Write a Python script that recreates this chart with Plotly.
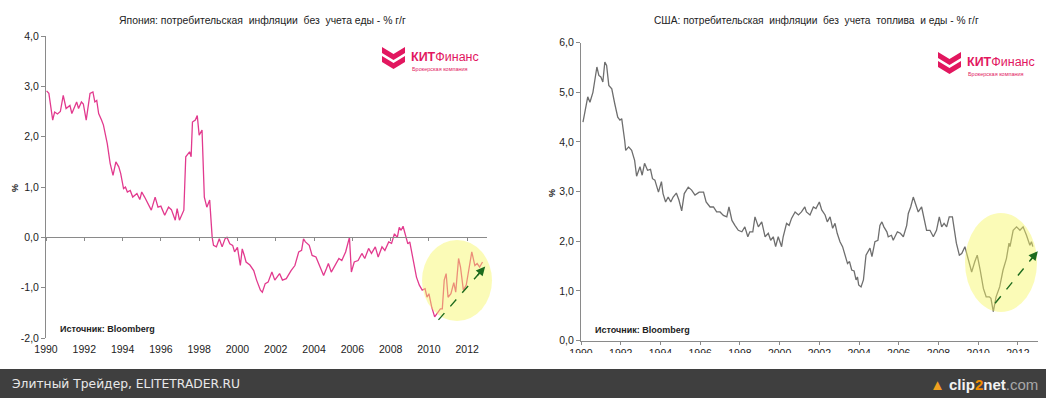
import plotly.graph_objects as go

# ---------------- data ----------------
jp_years = [1990.03, 1990.15, 1990.35, 1990.45, 1990.6, 1990.75, 1990.9, 1991.05, 1991.25, 1991.35,
            1991.6, 1991.7, 1991.85, 1991.95, 1992.1, 1992.3, 1992.45, 1992.55, 1992.65, 1992.75,
            1992.9, 1993.0, 1993.2, 1993.3, 1993.35, 1993.5, 1993.65, 1993.8, 1993.9, 1994.05,
            1994.15, 1994.25, 1994.4, 1994.53, 1994.75, 1994.9, 1995.0, 1995.15, 1995.35, 1995.5,
            1995.7, 1995.85, 1996.0, 1996.2, 1996.4, 1996.55, 1996.75, 1996.85, 1996.97, 1997.2,
            1997.3, 1997.5, 1997.58, 1997.65, 1997.8, 1997.9, 1998.0, 1998.15, 1998.27, 1998.4,
            1998.55, 1998.68, 1998.75, 1998.9, 1999.05, 1999.2, 1999.35, 1999.45, 1999.6, 1999.75,
            1999.85, 2000.0, 2000.15, 2000.25, 2000.35, 2000.45, 2000.65, 2000.85, 2001.0, 2001.2,
            2001.3, 2001.45, 2001.6, 2001.8, 2001.95, 2002.2, 2002.35, 2002.55, 2002.8, 2003.0,
            2003.2, 2003.35, 2003.45, 2003.55, 2003.75, 2003.9, 2004.1, 2004.3, 2004.5, 2004.65,
            2004.75, 2004.9, 2005.05, 2005.3, 2005.45, 2005.65, 2005.85, 2005.95, 2006.1, 2006.3,
            2006.5, 2006.65, 2006.85, 2007.0, 2007.2, 2007.35, 2007.55, 2007.7, 2007.9, 2008.05,
            2008.2, 2008.35, 2008.45, 2008.55, 2008.65, 2008.8, 2008.9, 2009.0, 2009.15, 2009.35,
            2009.5, 2009.65, 2009.8, 2009.9, 2010.0, 2010.15, 2010.3, 2010.45, 2010.6, 2010.7,
            2010.8, 2010.9, 2011.0, 2011.15, 2011.3, 2011.4, 2011.55, 2011.65, 2011.8, 2011.95,
            2012.1, 2012.24, 2012.4, 2012.52, 2012.65, 2012.8]
jp_values = [2.91, 2.86, 2.33, 2.49, 2.45, 2.50, 2.82, 2.56, 2.62, 2.46,
             2.69, 2.56, 2.69, 2.65, 2.33, 2.86, 2.89, 2.69, 2.72, 2.46,
             2.33, 2.23, 1.86, 1.53, 1.47, 1.23, 1.50, 1.40, 1.27, 0.97,
             1.00, 0.90, 0.93, 0.80, 0.87, 0.75, 0.90, 0.80, 0.64, 0.54,
             0.80, 0.60, 0.62, 0.44, 0.60, 0.55, 0.34, 0.57, 0.34, 0.54,
             1.60, 1.70, 1.60, 2.29, 2.33, 2.42, 2.03, 2.13, 0.80, 0.60,
             0.74, 0.00, -0.16, -0.19, -0.03, -0.19, -0.03, 0.00, -0.13, -0.16,
             -0.29, -0.20, -0.56, -0.23, -0.35, -0.49, -0.55, -0.66, -0.85, -1.05,
             -1.09, -0.92, -0.89, -0.69, -0.85, -0.72, -0.85, -0.82, -0.66, -0.56,
             -0.29, -0.26, -0.03, -0.09, -0.16, -0.36, -0.39, -0.59, -0.76, -0.62,
             -0.52, -0.69, -0.59, -0.42, -0.46, -0.29, 0.00, -0.69, -0.49, -0.46,
             -0.32, -0.42, -0.22, -0.32, -0.19, -0.39, -0.19, -0.26, -0.09, -0.12,
             0.07, 0.00, 0.20, 0.14, 0.22, 0.00, -0.13, -0.09, -0.39, -0.79,
             -0.95, -1.05, -1.02, -1.19, -1.12, -1.39, -1.58, -1.50, -1.42, -1.42,
             -0.85, -0.72, -1.19, -1.12, -0.90, -1.09, -0.42, -0.59, -1.05, -0.95,
             -0.59, -0.29, -0.56, -0.52, -0.59, -0.49]

us_years = [1990.1, 1990.2, 1990.34, 1990.45, 1990.6, 1990.8, 1990.9, 1991.0, 1991.1, 1991.2,
            1991.29, 1991.4, 1991.55, 1991.7, 1991.85, 1991.96, 1992.05, 1992.2, 1992.25, 1992.4,
            1992.55, 1992.7, 1992.8, 1992.97, 1993.08, 1993.2, 1993.35, 1993.5, 1993.6, 1993.72,
            1993.9, 1994.05, 1994.13, 1994.26, 1994.39, 1994.52, 1994.64, 1994.8, 1994.93, 1995.07,
            1995.2, 1995.4, 1995.57, 1995.74, 1995.95, 1996.17, 1996.3, 1996.5, 1996.67, 1996.83,
            1997.0, 1997.17, 1997.34, 1997.45, 1997.6, 1997.75, 1997.92, 1998.1, 1998.25, 1998.4,
            1998.5, 1998.65, 1998.76, 1998.93, 1999.1, 1999.27, 1999.43, 1999.55, 1999.68, 1999.8,
            1999.93, 2000.1, 2000.18, 2000.35, 2000.48, 2000.6, 2000.78, 2000.95, 2001.1, 2001.27,
            2001.35, 2001.53, 2001.7, 2001.83, 2002.0, 2002.12, 2002.29, 2002.4, 2002.54, 2002.67,
            2002.79, 2002.9, 2003.04, 2003.17, 2003.3, 2003.42, 2003.52, 2003.63, 2003.75, 2003.85,
            2003.92, 2003.98, 2004.1, 2004.22, 2004.35, 2004.48, 2004.55, 2004.65, 2004.8, 2004.95,
            2005.05, 2005.15, 2005.25, 2005.4, 2005.47, 2005.63, 2005.72, 2005.93, 2006.08, 2006.23,
            2006.4, 2006.48, 2006.6, 2006.73, 2006.86, 2006.98, 2007.15, 2007.27, 2007.4, 2007.57,
            2007.74, 2007.9, 2008.04, 2008.16, 2008.28, 2008.41, 2008.54, 2008.7, 2008.82, 2008.9,
            2009.05, 2009.17, 2009.33, 2009.5, 2009.67, 2009.83, 2009.95, 2010.1, 2010.26, 2010.4,
            2010.56, 2010.64, 2010.76, 2010.9, 2011.08, 2011.25, 2011.42, 2011.55, 2011.6, 2011.76,
            2011.93, 2012.1, 2012.26, 2012.43, 2012.6, 2012.68, 2012.75]
us_values = [4.40, 4.60, 4.91, 4.80, 5.00, 5.51, 5.34, 5.31, 5.21, 5.61,
             5.54, 5.14, 5.07, 4.77, 4.50, 4.44, 4.47, 4.03, 3.83, 3.90,
             3.83, 3.63, 3.31, 3.50, 3.33, 3.57, 3.43, 3.45, 3.26, 3.23,
             2.99, 3.20, 2.96, 2.79, 2.89, 2.79, 2.89, 2.97, 2.83, 2.61,
             2.96, 3.09, 3.03, 2.93, 2.99, 2.99, 2.79, 2.69, 2.69, 2.59,
             2.59, 2.52, 2.49, 2.69, 2.42, 2.32, 2.22, 2.19, 2.29, 2.09,
             2.19, 2.19, 2.49, 2.29, 2.39, 2.09, 2.16, 2.02, 2.09, 1.89,
             2.09, 1.89, 2.09, 2.36, 2.32, 2.46, 2.59, 2.53, 2.59, 2.69,
             2.59, 2.53, 2.69, 2.66, 2.79, 2.63, 2.53, 2.39, 2.49, 2.26,
             2.36, 2.16, 1.99, 1.89, 1.72, 1.55, 1.59, 1.42, 1.40, 1.22,
             1.28, 1.12, 1.08, 1.22, 1.72, 1.82, 1.86, 1.69, 1.99, 2.02,
             2.32, 2.39, 2.29, 2.19, 2.09, 2.12, 2.02, 2.19, 2.16, 2.09,
             2.32, 2.56, 2.69, 2.89, 2.73, 2.59, 2.69, 2.46, 2.22, 2.22,
             2.09, 2.22, 2.49, 2.29, 2.36, 2.29, 2.49, 2.49, 2.22, 1.96,
             1.72, 1.75, 1.89, 1.65, 1.38, 1.59, 1.72, 1.42, 1.05, 0.88,
             0.88, 0.85, 0.58, 0.88, 1.08, 1.42, 1.65, 1.96, 1.89, 2.22,
             2.29, 2.22, 2.29, 2.12, 1.92, 1.99, 1.89]

year_ticks = [1990, 1992, 1994, 1996, 1998, 2000, 2002, 2004, 2006, 2008, 2010, 2012]
year_labels = [str(y) for y in year_ticks]
jp_yticks = [-2, -1, 0, 1, 2, 3, 4]
jp_ylabels = ["-2,0", "-1,0", "0,0", "1,0", "2,0", "3,0", "4,0"]
us_yticks = [0, 1, 2, 3, 4, 5, 6]
us_ylabels = ["0,0", "1,0", "2,0", "3,0", "4,0", "5,0", "6,0"]

jp_title = "Япония: потребительская  инфляции  без  учета еды - % г/г"
us_title = "США: потребительская  инфляции  без  учета  топлива  и еды - % г/г"
source_text = "<b>Источник: Bloomberg</b>"

# trend arrows (start year, start value, end year, end value)
jp_arrow = [2010.5, -1.64, 2012.94, -0.58]
us_arrow = [2010.85, 0.75, 2013.0, 1.80]

# ---------------- layout helpers ----------------
W, H = 1046, 398
def px(x): return x / W
def py(y): return 1 - y / H

JP_X = [1990, 2013.05]; JP_Y = [-2, 4]
US_X = [1990, 2013.01]; US_Y = [0, 6]
jp_dx = [px(46), px(487.3)]; jp_dy = [py(338), py(36)]
us_dx = [px(581), px(1038)]; us_dy = [py(340.5), py(42.7)]

PINK = "#E23A8E"
GRAY_LINE = "#6E6E6E"
AXIS = "#8A8A8A"
TXT = "#222222"
FONT = "Liberation Sans"

fig = go.Figure()
fig.add_trace(go.Scatter(x=jp_years, y=jp_values, mode="lines", xaxis="x", yaxis="y",
                         line=dict(color=PINK, width=1.3), showlegend=False, hoverinfo="skip"))
fig.add_trace(go.Scatter(x=[1990], y=[0], mode="lines", xaxis="x2", yaxis="y",
                         line=dict(color="rgba(0,0,0,0)"), showlegend=False, hoverinfo="skip"))
fig.add_trace(go.Scatter(x=us_years, y=us_values, mode="lines", xaxis="x3", yaxis="y3",
                         line=dict(color=GRAY_LINE, width=1.3), showlegend=False, hoverinfo="skip"))

tickfont = dict(family=FONT, size=10.5, color=TXT)
yax = dict(showline=True, linecolor=AXIS, linewidth=1, ticks="outside", ticklen=4, tickcolor=AXIS,
           showgrid=False, zeroline=False, tickfont=tickfont, fixedrange=True, automargin=False)

zero_pos = jp_dy[0] + (jp_dy[1] - jp_dy[0]) * (0 - JP_Y[0]) / (JP_Y[1] - JP_Y[0])

fig.update_layout(
    width=W, height=H, margin=dict(l=0, r=0, t=0, b=0, pad=0, autoexpand=False),
    paper_bgcolor="white", plot_bgcolor="white",
    xaxis=dict(domain=jp_dx, range=JP_X, anchor="y", tickvals=year_ticks, ticktext=year_labels,
               showline=False, ticks="", showgrid=False, zeroline=False, tickfont=tickfont,
               ticklabelstandoff=3, automargin=False),
    xaxis2=dict(overlaying="x", matches="x", anchor="free", position=zero_pos, range=JP_X,
                tickvals=year_ticks, showticklabels=False, showline=True, linecolor=AXIS,
                ticks="outside", ticklen=3, tickcolor=AXIS, showgrid=False, zeroline=False,
                automargin=False),
    yaxis=dict(domain=jp_dy, range=JP_Y, anchor="x", tickvals=jp_yticks, ticktext=jp_ylabels, **yax),
    xaxis3=dict(domain=us_dx, range=US_X, anchor="y3", tickvals=year_ticks, ticktext=year_labels,
                showline=True, linecolor=AXIS, ticks="outside", ticklen=3, tickcolor=AXIS,
                showgrid=False, zeroline=False, tickfont=tickfont, automargin=False),
    yaxis3=dict(domain=us_dy, range=US_Y, anchor="x3", tickvals=us_yticks, ticktext=us_ylabels, **yax),
)

shapes = []
ann = []

def note(x, y, text, size, color=TXT, family=FONT, xanchor="center", angle=0):
    ann.append(dict(xref="paper", yref="paper", x=px(x), y=py(y), xanchor=xanchor, yanchor="middle",
                    showarrow=False, text=text, textangle=angle,
                    font=dict(family=family, size=size, color=color)))

# highlight ellipses (paper coords from pixel bounds)
shapes.append(dict(type="circle", xref="paper", yref="paper", layer="above",
                   x0=px(422), x1=px(492), y0=py(321), y1=py(240),
                   fillcolor="rgba(246,246,95,0.45)", line=dict(width=0)))
shapes.append(dict(type="circle", xref="paper", yref="paper", layer="above",
                   x0=px(965), x1=px(1037), y0=py(312), y1=py(213),
                   fillcolor="rgba(246,246,95,0.45)", line=dict(width=0)))

GREEN = "#1E6B1E"
for arr, xr, yr in [(jp_arrow, "x", "y"), (us_arrow, "x3", "y3")]:
    shapes.append(dict(type="line", xref=xr, yref=yr, x0=arr[0], y0=arr[1], x1=arr[2], y1=arr[3],
                       layer="above", line=dict(color=GREEN, width=1.4, dash="dash")))
    ann.append(dict(xref=xr, yref=yr, x=arr[2], y=arr[3], axref=xr, ayref=yr,
                    ax=arr[2] - (arr[2] - arr[0]) * 0.2, ay=arr[3] - (arr[3] - arr[1]) * 0.2,
                    text="", showarrow=True, arrowhead=2, arrowsize=1.4, arrowwidth=1.3,
                    arrowcolor=GREEN, standoff=0, startstandoff=0))

# logos
LOGO = "#E2175F"
def chevron(x0, y0):
    paths = []
    for dy in (0, 9):
        pts = [(x0, y0 + dy), (x0 + 11.5, y0 + 7 + dy), (x0 + 23, y0 + dy), (x0 + 23, y0 + 6 + dy),
               (x0 + 11.5, y0 + 13 + dy), (x0, y0 + 6 + dy)]
        d = "M " + " L ".join(f"{px(a):.5f},{py(b):.5f}" for a, b in pts) + " Z"
        paths.append(dict(type="path", xref="paper", yref="paper", path=d, fillcolor=LOGO,
                          line=dict(width=0), layer="above"))
    return paths

for (lx, ly) in [(382, 47), (938, 52)]:
    shapes += chevron(lx, ly)
    note(lx + 27, ly + 10, "<b>КИТ</b>Финанс", 12.5, LOGO, xanchor="left")
    note(lx + 28, ly + 22, "Брокерская компания", 5.5, LOGO, xanchor="left")

# titles
note(262, 21, jp_title, 10.4)
note(816, 21, us_title, 10.2)
# % labels
note(15, 188, "<b>%</b>", 9, angle=-90)
note(552, 193, "<b>%</b>", 9, angle=-90)
# source
note(58, 329, source_text, 9, xanchor="left")
note(593, 330, source_text, 9, xanchor="left")

# crop strip + footer bar
shapes.append(dict(type="rect", xref="paper", yref="paper", x0=0, x1=1, y0=py(369), y1=py(353),
                   fillcolor="white", line=dict(width=0), layer="above"))
shapes.append(dict(type="rect", xref="paper", yref="paper", x0=0, x1=1, y0=0, y1=py(369),
                   fillcolor="#3F3F3F", line=dict(width=0), layer="above"))
note(10, 384, "Элитный Трейдер, ELITETRADER.RU", 12.3, "#E8E8E8", family="DejaVu Sans", xanchor="left")
note(1040, 384,
     "<span style='color:#F0A020'>▲</span> <b>clip<span style='color:#F08C00'>2</span>net</b><span style='color:#A8A8A8'>.com</span>",
     15, "#F2F2F2", xanchor="right")

fig.update_layout(shapes=shapes, annotations=ann)
fig.write_html("out.html", config={"displayModeBar": False},
               post_script="document.body.style.margin='0px';")
